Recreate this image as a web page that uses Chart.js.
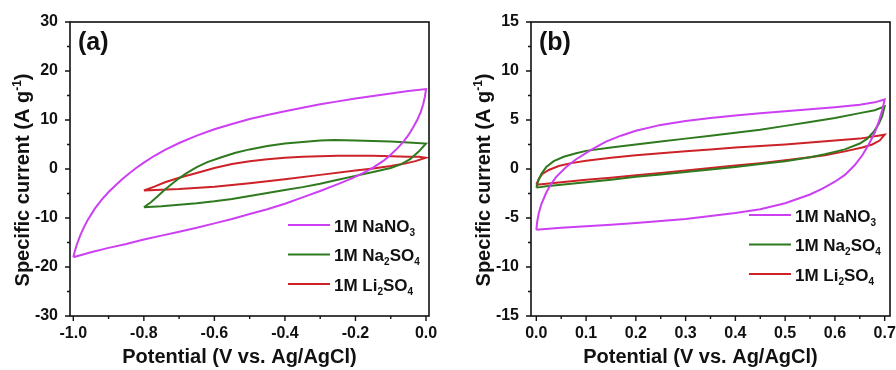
<!DOCTYPE html>
<html>
<head>
<meta charset="utf-8">
<script src="https://cdn.jsdelivr.net/npm/chart.js@4.4.1/dist/chart.umd.min.js"></script>
<style>
  html, body { margin: 0; padding: 0; background: #fff; overflow: hidden; }
  #wrap { position: relative; width: 896px; height: 370px; }
  canvas { position: absolute; top: 0; }
  #cvA { left: 0; }
  #cvB { left: 448px; }
</style>
</head>
<body>
<div id="wrap">
  <canvas id="cvA" width="448" height="370"></canvas>
  <canvas id="cvB" width="448" height="370"></canvas>
</div>
<script>
// Electrolytes (underscore marks a subscript)
const seriesNames = ['1M NaNO_3', '1M Na_2SO_4', '1M Li_2SO_4'];
const seriesColors = ['#cc3ff2', '#2f7a1e', '#cc2228'];

const xTitle = 'Potential (V vs. Ag/AgCl)';
const yTitle = 'Specific current (A g^{-1})';

// ---- Panel (a): negative window, -1.0 .. 0.0 V ----
const xTicksA = [-1.0, -0.8, -0.6, -0.4, -0.2, 0.0];
const xMinorA = [-0.9, -0.7, -0.5, -0.3, -0.1];
const yTicksA = [-30, -20, -10, 0, 10, 20, 30];
const yMinorA = [-25, -15, -5, 5, 15, 25];

// [potential (V), current (A/g)] - anodic sweep then cathodic sweep
const nano3A = [
  [-1.0, -18.0], [-0.995, -16.6], [-0.99, -15.4], [-0.98, -13.5], [-0.97, -11.9], [-0.96, -10.5],
  [-0.94, -8.2], [-0.92, -6.3], [-0.90, -4.7], [-0.88, -3.3], [-0.86, -2.0], [-0.84, -0.8],
  [-0.82, 0.3], [-0.80, 1.3], [-0.77, 2.7], [-0.74, 3.9], [-0.70, 5.3], [-0.65, 6.8],
  [-0.60, 8.1], [-0.55, 9.2], [-0.50, 10.2], [-0.45, 11.0], [-0.40, 11.8], [-0.35, 12.5],
  [-0.30, 13.2], [-0.25, 13.8], [-0.20, 14.4], [-0.15, 14.9], [-0.10, 15.4], [-0.05, 15.9],
  [0.0, 16.3],
  [-0.003, 14.8], [-0.008, 13.2], [-0.015, 11.6], [-0.025, 10.0], [-0.037, 8.4], [-0.05, 6.9],
  [-0.065, 5.5], [-0.08, 4.3], [-0.10, 2.9], [-0.12, 1.7], [-0.15, 0.3], [-0.18, -0.9],
  [-0.21, -1.9], [-0.25, -3.1], [-0.30, -4.5], [-0.35, -5.8], [-0.40, -7.1], [-0.45, -8.2],
  [-0.50, -9.2], [-0.55, -10.2], [-0.60, -11.1], [-0.65, -12.0], [-0.70, -12.8], [-0.75, -13.6],
  [-0.80, -14.4], [-0.85, -15.3], [-0.90, -16.1], [-0.95, -17.0], [-1.0, -18.0]
];
const na2so4A = [
  [-0.80, -7.8], [-0.78, -6.8], [-0.76, -5.5], [-0.74, -4.2], [-0.72, -3.0], [-0.70, -1.9],
  [-0.68, -0.9], [-0.65, 0.4], [-0.62, 1.4], [-0.58, 2.4], [-0.54, 3.3], [-0.50, 4.0],
  [-0.45, 4.7], [-0.40, 5.2], [-0.35, 5.5], [-0.30, 5.8], [-0.26, 5.9], [-0.20, 5.8],
  [-0.15, 5.7], [-0.10, 5.6], [-0.05, 5.4], [0.0, 5.2],
  [-0.02, 3.6], [-0.045, 2.0], [-0.07, 1.0], [-0.10, 0.2], [-0.15, -0.6], [-0.20, -1.4],
  [-0.25, -2.2], [-0.30, -3.0], [-0.35, -3.7], [-0.40, -4.3], [-0.45, -4.9], [-0.50, -5.5],
  [-0.55, -6.1], [-0.60, -6.6], [-0.65, -7.0], [-0.70, -7.3], [-0.75, -7.6], [-0.80, -7.8]
];
const li2so4A = [
  [-0.80, -4.4], [-0.77, -3.6], [-0.74, -2.7], [-0.70, -1.8], [-0.65, -0.8], [-0.60, 0.2],
  [-0.55, 1.0], [-0.50, 1.6], [-0.45, 2.0], [-0.40, 2.3], [-0.35, 2.5], [-0.30, 2.6],
  [-0.25, 2.7], [-0.20, 2.7], [-0.15, 2.7], [-0.10, 2.6], [-0.05, 2.5], [-0.02, 2.5], [0.0, 2.3],
  [-0.03, 1.6], [-0.06, 1.1], [-0.10, 0.6], [-0.15, 0.1], [-0.20, -0.3], [-0.30, -1.2],
  [-0.40, -2.1], [-0.50, -2.9], [-0.60, -3.6], [-0.70, -4.1], [-0.80, -4.4]
];

// ---- Panel (b): positive window, 0.0 .. 0.7 V ----
const xTicksB = [0.0, 0.1, 0.2, 0.3, 0.4, 0.5, 0.6, 0.7];
const xMinorB = [0.05, 0.15, 0.25, 0.35, 0.45, 0.55, 0.65];
const yTicksB = [-15, -10, -5, 0, 5, 10, 15];
const yMinorB = [-12.5, -7.5, -2.5, 2.5, 7.5, 12.5];

const nano3B = [
  [0.0, -6.2], [0.002, -5.3], [0.005, -4.5], [0.01, -3.6], [0.02, -2.4], [0.03, -1.5],
  [0.04, -0.8], [0.06, 0.2], [0.08, 1.0], [0.11, 1.95], [0.14, 2.8], [0.17, 3.4],
  [0.20, 3.9], [0.25, 4.5], [0.30, 4.9], [0.35, 5.2], [0.40, 5.45], [0.45, 5.7],
  [0.50, 5.9], [0.55, 6.1], [0.60, 6.3], [0.65, 6.55], [0.68, 6.8], [0.70, 7.1],
  [0.695, 6.0], [0.688, 4.8], [0.68, 3.7], [0.668, 2.5], [0.655, 1.4], [0.64, 0.4],
  [0.62, -0.6], [0.60, -1.3], [0.575, -2.0], [0.55, -2.6], [0.50, -3.5], [0.45, -4.1],
  [0.40, -4.5], [0.35, -4.8], [0.30, -5.1], [0.25, -5.3], [0.20, -5.5], [0.15, -5.7],
  [0.10, -5.85], [0.05, -6.0], [0.0, -6.2]
];
const na2so4B = [
  [0.0, -1.9], [0.004, -1.2], [0.01, -0.5], [0.02, 0.2], [0.035, 0.8], [0.055, 1.25],
  [0.08, 1.6], [0.10, 1.85], [0.15, 2.2], [0.20, 2.5], [0.25, 2.8], [0.30, 3.1],
  [0.35, 3.4], [0.40, 3.7], [0.45, 4.0], [0.50, 4.4], [0.55, 4.8], [0.60, 5.2],
  [0.65, 5.7], [0.68, 6.0], [0.70, 6.4],
  [0.695, 5.4], [0.688, 4.6], [0.678, 3.8], [0.665, 3.1], [0.65, 2.6], [0.62, 2.0],
  [0.58, 1.5], [0.55, 1.2], [0.50, 0.8], [0.45, 0.5], [0.40, 0.2], [0.35, -0.05],
  [0.30, -0.3], [0.25, -0.55], [0.20, -0.8], [0.15, -1.1], [0.10, -1.35], [0.05, -1.6],
  [0.02, -1.75], [0.0, -1.9]
];
const li2so4B = [
  [0.0, -1.6], [0.005, -1.0], [0.012, -0.5], [0.025, -0.1], [0.045, 0.3], [0.07, 0.6],
  [0.10, 0.85], [0.15, 1.15], [0.20, 1.4], [0.25, 1.6], [0.30, 1.8], [0.35, 2.0],
  [0.40, 2.2], [0.45, 2.35], [0.50, 2.5], [0.55, 2.7], [0.60, 2.9], [0.65, 3.1], [0.70, 3.5],
  [0.69, 2.9], [0.675, 2.5], [0.655, 2.2], [0.62, 1.8], [0.58, 1.4], [0.55, 1.2],
  [0.50, 0.9], [0.45, 0.6], [0.40, 0.35], [0.35, 0.1], [0.30, -0.15], [0.25, -0.4],
  [0.20, -0.65], [0.15, -0.9], [0.10, -1.1], [0.05, -1.35], [0.0, -1.6]
];

const FONT = '"Liberation Sans", Arial, sans-serif';
const INK = '#111';

// split "NaNO_3" / "g^{-1}" into normal, sub and superscript runs
function parseRich(str) {
  const parts = [];
  const re = /([_^])(\{[^}]*\}|.)/g;
  let last = 0, m;
  while ((m = re.exec(str))) {
    if (m.index > last) parts.push({ t: str.slice(last, m.index), k: '' });
    let t = m[2];
    if (t[0] === '{') t = t.slice(1, -1);
    parts.push({ t, k: m[1] });
    last = re.lastIndex;
  }
  if (last < str.length) parts.push({ t: str.slice(last), k: '' });
  return parts;
}

function drawRich(ctx, str, x, y, size, align) {
  const parts = parseRich(str);
  const small = Math.round(size * 0.6);
  const fontFor = k => `bold ${k ? small : size}px ${FONT}`;
  let w = 0;
  parts.forEach(p => { ctx.font = fontFor(p.k); p.w = ctx.measureText(p.t).width; w += p.w; });
  let cx = align === 'center' ? x - w / 2 : x;
  ctx.textAlign = 'left';
  ctx.textBaseline = 'alphabetic';
  parts.forEach(p => {
    ctx.font = fontFor(p.k);
    const dy = p.k === '_' ? size * 0.26 : p.k === '^' ? -size * 0.38 : 0;
    ctx.fillText(p.t, cx, y + dy);
    cx += p.w;
  });
}

// frame, outward ticks, panel tag, legend and axis titles
const panelDecor = {
  id: 'panelDecor',
  afterDraw(chart, args, opts) {
    const { ctx, chartArea: area, scales: { x, y } } = chart;
    ctx.save();
    ctx.strokeStyle = INK;
    ctx.fillStyle = INK;

    ctx.lineWidth = 1.6;
    ctx.strokeRect(area.left, area.top, area.right - area.left, area.bottom - area.top);

    ctx.lineWidth = 1.4;
    ctx.beginPath();
    const tickX = (v, len) => {
      const px = x.getPixelForValue(v);
      ctx.moveTo(px, area.bottom); ctx.lineTo(px, area.bottom + len);
    };
    const tickY = (v, len) => {
      const py = y.getPixelForValue(v);
      ctx.moveTo(area.left, py); ctx.lineTo(area.left - len, py);
    };
    opts.xMajor.forEach(v => tickX(v, 5));
    opts.xMinor.forEach(v => tickX(v, 3));
    opts.yMajor.forEach(v => tickY(v, 5));
    opts.yMinor.forEach(v => tickY(v, 3));
    ctx.stroke();

    // panel tag
    ctx.font = `bold 25px ${FONT}`;
    ctx.textAlign = 'left';
    ctx.textBaseline = 'alphabetic';
    ctx.fillText(opts.tag, area.left + 8, area.top + 28);

    // legend
    chart.data.datasets.forEach((ds, i) => {
      const ly = opts.legendY + i * 29.5;
      ctx.strokeStyle = ds.borderColor;
      ctx.lineWidth = 2;
      ctx.beginPath();
      ctx.moveTo(area.right - 141, ly);
      ctx.lineTo(area.right - 99, ly);
      ctx.stroke();
      ctx.fillStyle = INK;
      drawRich(ctx, ds.label, area.right - 95, ly + 6.5, 17, 'left');
    });

    // axis titles
    drawRich(ctx, xTitle, (area.left + area.right) / 2 - 10, area.bottom + 47, 20, 'center');
    ctx.translate(area.left - 41, (area.top + area.bottom) / 2 + 11);
    ctx.rotate(-Math.PI / 2);
    drawRich(ctx, yTitle, 0, 0, 20, 'center');
    ctx.restore();
  }
};

function loops(series) {
  return series.map((pts, i) => ({
    label: seriesNames[i],
    data: pts.map(([v, c]) => ({ x: v, y: c })),
    showLine: true,
    borderColor: seriesColors[i],
    borderWidth: 2,
    pointRadius: 0,
    tension: 0,
    fill: false
  }));
}

function makePanel(id, cfg) {
  const tickFont = { family: FONT, size: 16, weight: 'bold' };
  new Chart(document.getElementById(id), {
    type: 'scatter',
    data: { datasets: loops(cfg.series) },
    plugins: [panelDecor],
    options: {
      responsive: false,
      animation: false,
      devicePixelRatio: 1,
      layout: { padding: { top: 22, right: cfg.padRight, left: 0, bottom: 0 } },
      plugins: {
        legend: { display: false },
        tooltip: { enabled: false },
        panelDecor: {
          tag: cfg.tag, legendY: cfg.legendY,
          xMajor: cfg.xTicks, xMinor: cfg.xMinor, yMajor: cfg.yTicks, yMinor: cfg.yMinor
        }
      },
      scales: {
        x: {
          type: 'linear', min: cfg.xMin, max: cfg.xMax,
          grid: { display: false, drawTicks: false },
          border: { display: false },
          afterBuildTicks: s => { s.ticks = cfg.xTicks.map(v => ({ value: v })); },
          afterFit: s => { s.height = 54; s.paddingLeft = 0; s.paddingRight = 0; },
          ticks: { padding: 8, color: INK, font: tickFont, maxRotation: 0, autoSkip: false,
                   callback: v => v.toFixed(1) }
        },
        y: {
          type: 'linear', min: cfg.yMin, max: cfg.yMax,
          grid: { display: false, drawTicks: false },
          border: { display: false },
          afterBuildTicks: s => { s.ticks = cfg.yTicks.map(v => ({ value: v })); },
          afterFit: s => { s.width = cfg.yWidth; s.paddingTop = 0; s.paddingBottom = 0; },
          ticks: { padding: 12, color: INK, font: tickFont, autoSkip: false,
                   callback: v => String(v) }
        }
      }
    }
  });
}

makePanel('cvA', {
  tag: '(a)', series: [nano3A, na2so4A, li2so4A],
  xMin: -1.0094, xMax: 0.0085, yMin: -30, yMax: 30,
  xTicks: xTicksA, xMinor: xMinorA, yTicks: yTicksA, yMinor: yMinorA,
  yWidth: 70, padRight: 19, legendY: 225
});

makePanel('cvB', {
  tag: '(b)', series: [nano3B, na2so4B, li2so4B],
  xMin: -0.0107, xMax: 0.7107, yMin: -15, yMax: 15,
  xTicks: xTicksB, xMinor: xMinorB, yTicks: yTicksB, yMinor: yMinorB,
  yWidth: 83, padRight: 6, legendY: 215
});
</script>
</body>
</html>
